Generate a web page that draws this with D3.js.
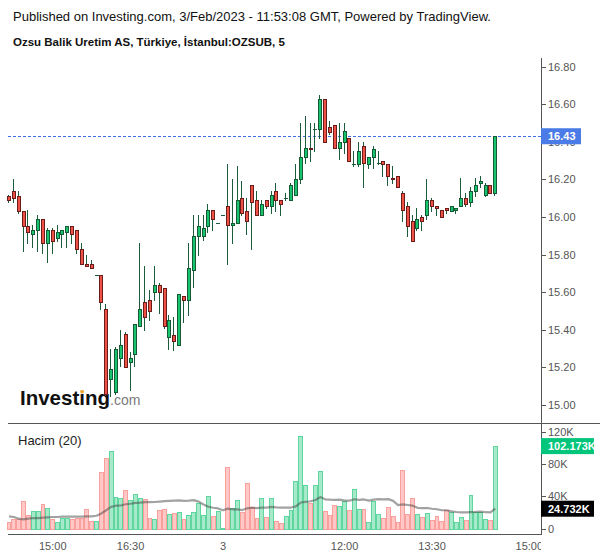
<!DOCTYPE html>
<html><head><meta charset="utf-8">
<script src="https://cdn.jsdelivr.net/npm/d3@7"></script>
<style>html,body{margin:0;padding:0;background:#fff;}svg{display:block;font-family:"Liberation Sans",Arial,sans-serif;}</style>
</head><body><svg id="c" width="600" height="558"></svg>
<script>
// ---- data (5-minute bars, OZSUB) ----
const opens  = [16.11,16.14,16.11,16.03,15.95,15.91,15.93,15.99,15.86,15.93,15.89,15.91,15.92,15.95,15.93,15.83,15.75,15.75,15.69,15.69,
15.51,15.14,15.07,15.25,15.38,15.23,15.27,15.42,15.55,15.56,15.60,15.64,15.62,15.36,15.37,15.32,15.58,15.56,15.72,15.90,
15.90,15.95,16.04,15.97,16.01,16.06,15.96,15.97,16.10,16.03,16.17,16.09,16.01,16.09,16.06,16.14,16.09,16.10,16.09,16.12,
16.20,16.32,16.37,16.47,16.47,16.63,16.48,16.49,16.37,16.40,16.42,16.28,16.28,16.38,16.28,16.32,16.29,16.30,16.28,16.21,
16.22,16.13,16.06,15.98,15.94,16.00,16.01,16.09,16.06,16.04,16.05,16.03,16.04,16.06,16.10,16.08,16.14,16.18,16.12,16.17,16.13];
const highs  = [16.12,16.20,16.14,16.03,16.04,15.96,16.01,15.99,15.94,15.94,15.96,15.93,15.95,15.95,15.93,15.86,15.80,15.77,15.69,15.69,
15.54,15.30,15.31,15.40,15.39,15.28,15.43,15.86,15.74,15.61,15.74,15.65,15.62,15.48,15.47,15.59,15.58,15.86,16.01,16.01,
16.01,16.07,16.04,15.97,16.01,16.28,16.20,16.27,16.19,16.10,16.17,16.14,16.09,16.09,16.14,16.18,16.09,16.13,16.18,16.28,
16.50,16.54,16.50,16.50,16.65,16.63,16.51,16.49,16.50,16.50,16.42,16.35,16.40,16.40,16.32,16.38,16.35,16.30,16.28,16.27,
16.22,16.14,16.08,16.01,16.05,16.01,16.20,16.10,16.06,16.04,16.05,16.06,16.05,16.21,16.13,16.16,16.21,16.22,16.18,16.17,16.43];
const lows   = [16.08,16.08,16.02,15.82,15.86,15.84,15.82,15.81,15.76,15.81,15.87,15.84,15.84,15.86,15.81,15.75,15.74,15.73,15.69,15.51,
15.06,15.05,15.06,15.21,15.20,15.08,15.21,15.42,15.40,15.45,15.56,15.49,15.41,15.30,15.29,15.32,15.44,15.48,15.63,15.80,
15.88,15.92,15.93,15.97,16.01,15.75,15.86,15.97,16.01,15.91,15.83,16.01,16.01,16.05,16.02,16.03,16.01,16.09,16.09,16.12,
16.18,16.29,16.30,16.35,16.42,16.40,16.44,16.37,16.31,16.34,16.30,16.27,16.27,16.16,16.26,16.26,16.28,16.22,16.17,16.18,
16.16,15.98,15.90,15.87,15.93,15.93,15.99,16.03,16.01,16.00,16.02,16.03,16.02,16.06,16.06,16.06,16.11,16.16,16.11,16.13,16.12];
const closes = [16.09,16.10,16.03,15.95,15.92,15.93,15.99,15.86,15.93,15.87,15.92,15.93,15.95,15.91,15.83,15.75,15.74,15.73,15.69,15.55,
15.06,15.19,15.30,15.32,15.20,15.25,15.43,15.51,15.47,15.50,15.64,15.60,15.42,15.45,15.34,15.59,15.56,15.73,15.90,15.95,
15.94,16.04,15.99,15.97,16.01,15.96,15.97,16.09,16.02,15.98,16.08,16.01,16.07,16.06,16.12,16.09,16.07,16.10,16.17,16.20,
16.32,16.37,16.36,16.47,16.63,16.40,16.45,16.37,16.40,16.46,16.30,16.28,16.35,16.29,16.32,16.36,16.29,16.28,16.22,16.20,
16.16,16.04,15.95,15.87,15.99,15.98,16.09,16.06,16.05,16.00,16.04,16.06,16.05,16.10,16.07,16.14,16.17,16.19,16.17,16.13,16.43];
// volume in thousands of shares
const volumes = [8.3,11.6,11.6,33.9,16.6,22.3,22.3,30.5,25.2,11.6,8.3,13.6,12.8,11.6,12.8,12.8,24.0,9.1,9.1,70.1,
87.5,95.7,39.2,38.5,47.5,35.1,42.5,37.6,36.3,13.2,11.6,22.7,24.0,17.8,19.4,20.3,11.6,16.6,20.3,31.8,
16.6,40.1,15.3,21.5,0.5,76.3,25.6,35.1,20.7,56.5,26.8,13.2,37.6,14.5,37.6,9.1,7.0,15.3,22.7,58.6,
114.7,54.0,31.8,54.0,71.0,21.5,16.6,28.9,27.7,33.9,22.7,48.7,24.0,24.0,8.3,33.9,17.8,13.2,26.5,15.3,
8.3,72.2,17.8,37.6,17.8,14.1,19.4,10.4,15.3,9.1,22.7,20.7,8.3,14.1,10.4,41.3,20.7,20.7,11.6,10.6,102.173];
// 20-bar volume average for the first bars (depends on bars before the window)
const volMAHead = [15.3,14.5,12.4,11.6,12.4,13.2,13.2,13.6,14.0,14.5,14.5,14.9,14.9,14.9,14.9,14.9,15.3,15.3,16.0];
const priceTicks = [15.00,15.20,15.40,15.60,15.80,16.00,16.20,16.40,16.60,16.80];
const volTicks = [0,40,80,120];
const volTickLabels = ["0","40K","80K","120K"];
const xTickIndex = [9,25,44,69,87,107];
const xTickLabels = ["15:00","16:30","3","12:00","13:30","15:00"];
const lastPrice = 16.43;
const lastVolLabel = "102.173K";
const maLast = 24.732;
const maLastLabel = "24.732K";

// ---- layout ----
const svg = d3.select("#c");
const axisX = 541;
const x = d3.scaleLinear().domain([0, volumes.length-1]).range([9, 495.3]);
const y = d3.scaleLinear().domain([15.00, 16.80]).range([405, 66.7]);
const vy = d3.scaleLinear().domain([0, 120]).range([528.7, 431.7]);
const FONT = '"Liberation Sans",Arial,sans-serif';

// header
svg.append("text").attr("x",13).attr("y",21).attr("font-size",13).attr("fill","#111")
  .text("Published on Investing.com, 3/Feb/2023 - 11:53:08 GMT, Powered by TradingView.");
svg.append("text").attr("x",13).attr("y",46).attr("font-size",11.5).attr("font-weight","bold").attr("fill","#111")
  .text("Ozsu Balik Uretim AS, Türkiye, İstanbul:OZSUB, 5");

// logo
const logo = svg.append("text").attr("x",20).attr("y",405).attr("font-family",FONT);
logo.append("tspan").attr("font-size",20.5).attr("font-weight","bold").attr("fill","#111").text("Investing");
logo.append("tspan").attr("font-size",14).attr("fill","#7a7a7a").text(".com");
try {
  const ext = logo.node().getExtentOfChar(6);
  svg.append("rect").attr("x",ext.x+ext.width/2-1.6).attr("y",405-15).attr("width",3.2).attr("height",3.4).attr("fill","#fff");
  svg.append("circle").attr("cx",ext.x+ext.width/2).attr("cy",405-13.3).attr("r",1.8).attr("fill","#f4a11d");
} catch(e) {}

// axes frame
const frame = svg.append("g").attr("stroke","#555").attr("stroke-width",1);
frame.append("line").attr("x1",axisX+0.5).attr("x2",axisX+0.5).attr("y1",58).attr("y2",535);
frame.append("line").attr("x1",8).attr("x2",600).attr("y1",423.5).attr("y2",423.5);
frame.append("line").attr("x1",8).attr("x2",axisX+1).attr("y1",534.5).attr("y2",534.5);

// price axis ticks
const pt = svg.append("g");
priceTicks.forEach(p => {
  const yy = Math.round(y(p)) + 0.5;
  pt.append("line").attr("x1",axisX+1).attr("x2",axisX+5).attr("y1",yy).attr("y2",yy).attr("stroke","#555");
  pt.append("text").attr("x",548).attr("y",yy).attr("dy","0.36em").attr("font-size",11).attr("fill","#555").text(p.toFixed(2));
});
// volume axis ticks
volTicks.forEach((v,i) => {
  const yy = Math.round(vy(v)) + 0.5;
  pt.append("line").attr("x1",axisX+1).attr("x2",axisX+5).attr("y1",yy).attr("y2",yy).attr("stroke","#555");
  pt.append("text").attr("x",548).attr("y",yy).attr("dy","0.36em").attr("font-size",11).attr("fill","#555").text(volTickLabels[i]);
});
// x labels (clipped at price axis)
svg.append("clipPath").attr("id","xclip").append("rect").attr("x",0).attr("y",535).attr("width",axisX).attr("height",23);
const xl = svg.append("g").attr("clip-path","url(#xclip)");
xTickIndex.forEach((ix,i) => {
  xl.append("text").attr("x",x(ix)).attr("y",550).attr("text-anchor","middle").attr("font-size",11).attr("fill","#555").text(xTickLabels[i]);
});

// volume pane label
svg.append("text").attr("x",18).attr("y",445).attr("font-size",13).attr("fill","#222").text("Hacim (20)");

// volume bars
const half = (x(1)-x(0))/2;
const vb = svg.append("g");
volumes.forEach((v,i) => {
  const up = closes[i] >= opens[i];
  const l = Math.round(x(i)-half), r = Math.round(x(i)+half);
  const top = Math.round(vy(v)) + 0.5, base = Math.round(vy(0)) + 0.5;
  vb.append("rect").attr("x",l+0.5).attr("y",Math.min(top, base-0.5)).attr("width",r-l-1).attr("height",Math.max(base-top,0.5))
    .attr("fill", up ? "#a6e9cb" : "#ffc8c6").attr("stroke", up ? "#5fd69e" : "#f9a09c").attr("stroke-width",1);
});
// volume moving average
const ma = volumes.map((v,i) => i < volMAHead.length ? volMAHead[i] : d3.mean(volumes.slice(i-19, i+1)));
svg.append("path").datum(ma)
  .attr("d", d3.line().x((d,i)=>x(i)).y(d=>vy(d)))
  .attr("fill","none").attr("stroke","rgba(70,70,70,0.5)").attr("stroke-width",2.2).attr("stroke-linejoin","round");

// last price line
svg.append("line").attr("x1",8).attr("x2",axisX).attr("y1",Math.round(y(lastPrice))+0.5).attr("y2",Math.round(y(lastPrice))+0.5)
  .attr("stroke","#3e6fe3").attr("stroke-width",1).attr("stroke-dasharray","3,2");

// candles
const cg = svg.append("g");
volumes.forEach((_,i) => {
  const o = opens[i], h = highs[i], lo = lows[i], c = closes[i];
  const up = c >= o;
  const cx = Math.round(x(i));
  const wickCol = "#1b5c3a";
  const yh = Math.round(y(h)), yl = Math.round(y(lo));
  if (yl - yh > 0) cg.append("line").attr("x1",cx-0.5).attr("x2",cx-0.5).attr("y1",yh).attr("y2",yl+1).attr("stroke",wickCol);
  const yt = Math.round(y(Math.max(o,c))), yb = Math.round(y(Math.min(o,c)));
  if (yb - yt < 1) {
    cg.append("line").attr("x1",cx-2).attr("x2",cx+2).attr("y1",yt+0.5).attr("y2",yt+0.5).attr("stroke",wickCol);
  } else {
    cg.append("rect").attr("x",cx-1.5).attr("y",yt+0.5).attr("width",3).attr("height",yb-yt)
      .attr("fill", up ? "#19c46f" : "#ef5147").attr("stroke", up ? "#155a35" : "#6a1d18").attr("stroke-width",1);
  }
});

// right-side labels
function axisLabel(yc, txt, bg, w) {
  const g = svg.append("g");
  g.append("rect").attr("x",axisX).attr("y",yc-8).attr("width",w).attr("height",16).attr("fill",bg);
  g.append("text").attr("x",axisX+7).attr("y",yc).attr("dy","0.36em").attr("font-size",11).attr("font-weight","bold").attr("fill","#fff").text(txt);
}
axisLabel(y(lastPrice), lastPrice.toFixed(2), "#4a7be6", 40);
axisLabel(vy(volumes[volumes.length-1]), lastVolLabel, "#00c57a", 53);
axisLabel(vy(maLast), maLastLabel, "#000", 53);
</script></body></html>
